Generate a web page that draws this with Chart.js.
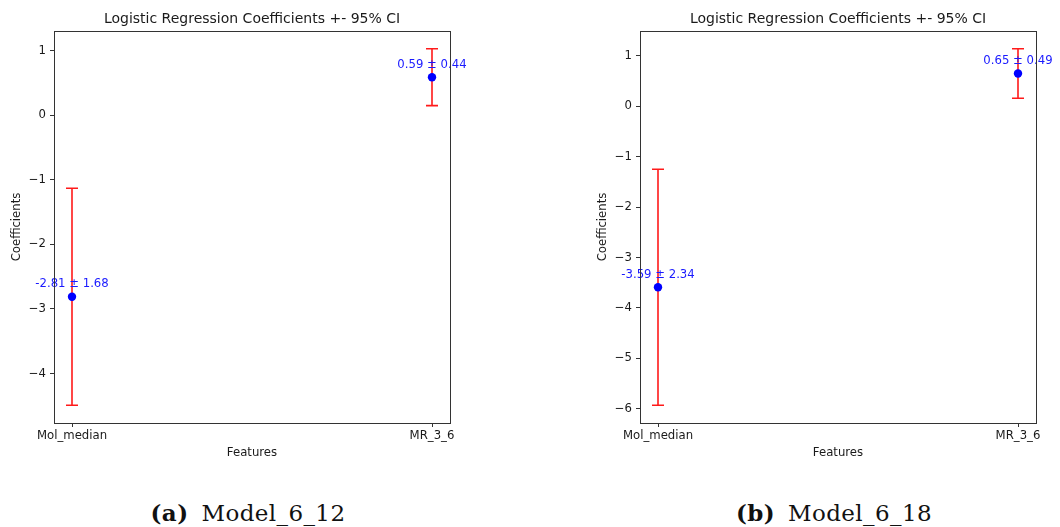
<!DOCTYPE html>
<html>
<head>
<meta charset="utf-8">
<script src="https://cdn.jsdelivr.net/npm/chart.js@4.4.1/dist/chart.umd.min.js"></script>
<style>
  html, body { margin: 0; padding: 0; background: #ffffff; }
  body { width: 1060px; height: 527px; position: relative; overflow: hidden; }
  canvas { position: absolute; top: 0; }
  #cA { left: 0; }
  #cB { left: 530px; }
  .cap { position: absolute; top: 499px; line-height: 28px; font-family: "DejaVu Serif", "Liberation Serif", serif; font-size: 23px; letter-spacing: 0.4px; color: #111; white-space: nowrap; text-align: center; width: 400px; }
  .cap b { font-weight: bold; margin-right: 13px; }
</style>
</head>
<body>
<canvas id="cA" width="530" height="470"></canvas>
<canvas id="cB" width="530" height="470"></canvas>
<div class="cap" style="left:48px;"><b>(a)</b>Model_6_12</div>
<div class="cap" style="left:634px;"><b>(b)</b>Model_6_18</div>
<script>
// ---- data ----
const categories = ['Mol_median', 'MR_3_6'];
const coefA = [-2.81, 0.59];
const ciA = [1.68, 0.44];
const coefB = [-3.59, 0.65];
const ciB = [2.34, 0.49];
const yTicksA = [-4, -3, -2, -1, 0, 1];
const yTicksB = [-6, -5, -4, -3, -2, -1, 0, 1];
const xTicks = [0, 1];
const titleText = 'Logistic Regression Coefficients +- 95% CI';
const xTitle = 'Features';
const yTitle = 'Coefficients';

const FONT = '"DejaVu Sans", sans-serif';
const FS = 11.7;

function fmtTick(v) {
  return v < 0 ? '\u2212' + Math.abs(v) : String(v);
}

const errorPlugin = {
  id: 'errbars',
  beforeDatasetsDraw(chart) {
    const {ctx, scales: {x, y}} = chart;
    const cfg = chart.options.plugins.errbars;
    ctx.save();
    ctx.strokeStyle = '#ff1a1a';
    ctx.lineWidth = 1.6;
    cfg.coef.forEach((c, i) => {
      const px = x.getPixelForValue(i);
      const yt = y.getPixelForValue(c + cfg.ci[i]);
      const yb = y.getPixelForValue(c - cfg.ci[i]);
      ctx.beginPath();
      ctx.moveTo(px, yt); ctx.lineTo(px, yb);
      ctx.moveTo(px - 6, yt); ctx.lineTo(px + 6, yt);
      ctx.moveTo(px - 6, yb); ctx.lineTo(px + 6, yb);
      ctx.stroke();
    });
    ctx.restore();
  },
  afterDatasetsDraw(chart) {
    const {ctx, scales: {x, y}} = chart;
    const cfg = chart.options.plugins.errbars;
    ctx.save();
    ctx.fillStyle = '#1a1aff';
    ctx.font = FS + 'px ' + FONT;
    ctx.textAlign = 'center';
    ctx.textBaseline = 'alphabetic';
    cfg.coef.forEach((c, i) => {
      const px = x.getPixelForValue(i);
      const py = y.getPixelForValue(c);
      ctx.fillText(c.toFixed(2) + ' \u00b1 ' + cfg.ci[i].toFixed(2), px, py - 9.5);
    });
    ctx.restore();
  },
  afterDraw(chart) {
    const {ctx, chartArea: a} = chart;
    ctx.save();
    ctx.strokeStyle = '#333333';
    ctx.lineWidth = 1;
    ctx.strokeRect(Math.round(a.left) + 0.5, Math.round(a.top) + 0.5, Math.round(a.right - a.left), Math.round(a.bottom - a.top));
    ctx.restore();
  }
};

function makeChart(id, coef, ci, yTicks, padLeft, padRight) {
  const lo = Math.min(...coef.map((c, i) => c - ci[i]));
  const hi = Math.max(...coef.map((c, i) => c + ci[i]));
  const m = (hi - lo) * 0.05;
  return new Chart(document.getElementById(id), {
    type: 'scatter',
    data: {
      datasets: [{
        data: coef.map((c, i) => ({x: i, y: c})),
        pointRadius: 4.2,
        pointHoverRadius: 4.2,
        backgroundColor: '#0000ff',
        borderWidth: 0
      }]
    },
    options: {
      responsive: false,
      animation: false,
      layout: { padding: { left: padLeft, right: padRight, top: 0, bottom: 0 } },
      plugins: {
        legend: { display: false },
        tooltip: { enabled: false },
        title: {
          display: true, text: titleText, color: '#1a1a1a', fullSize: false,
          font: { family: FONT, size: 14, weight: 'normal', lineHeight: 1.2 },
          padding: { top: 11, bottom: 3.2 }
        },
        errbars: { coef: coef, ci: ci }
      },
      scales: {
        x: {
          type: 'linear', min: -0.05, max: 1.05,
          afterBuildTicks: (s) => { s.ticks = xTicks.map(v => ({value: v})); },
          afterFit: (s) => { s.height = 47; },
          ticks: { color: '#1a1a1a', font: { family: FONT, size: FS }, padding: 1.7, maxRotation: 0,
                   callback: (v) => categories[v] },
          grid: { display: true, drawOnChartArea: false, drawTicks: true, tickLength: 4, color: '#333333' },
          border: { display: true, color: '#333333' },
          title: { display: true, text: xTitle, color: '#1a1a1a', font: { family: FONT, size: FS }, padding: { top: 0, bottom: 10.3 } }
        },
        y: {
          type: 'linear', min: lo - m, max: hi + m,
          afterBuildTicks: (s) => { s.ticks = yTicks.map(v => ({value: v})); },
          afterFit: (s) => { s.width = 54; },
          ticks: { color: '#1a1a1a', font: { family: FONT, size: FS }, padding: 4,
                   callback: (v) => fmtTick(v) },
          grid: { display: true, drawOnChartArea: false, drawTicks: true, tickLength: 4, color: '#333333' },
          border: { display: true, color: '#333333' },
          title: { display: true, text: yTitle, color: '#1a1a1a', font: { family: FONT, size: FS }, padding: { top: 10.3, bottom: 0 } }
        }
      }
    },
    plugins: [errorPlugin]
  });
}

makeChart('cA', coefA, ciA, yTicksA, 0, 80);
makeChart('cB', coefB, ciB, yTicksB, 56, 24);
</script>
</body>
</html>
